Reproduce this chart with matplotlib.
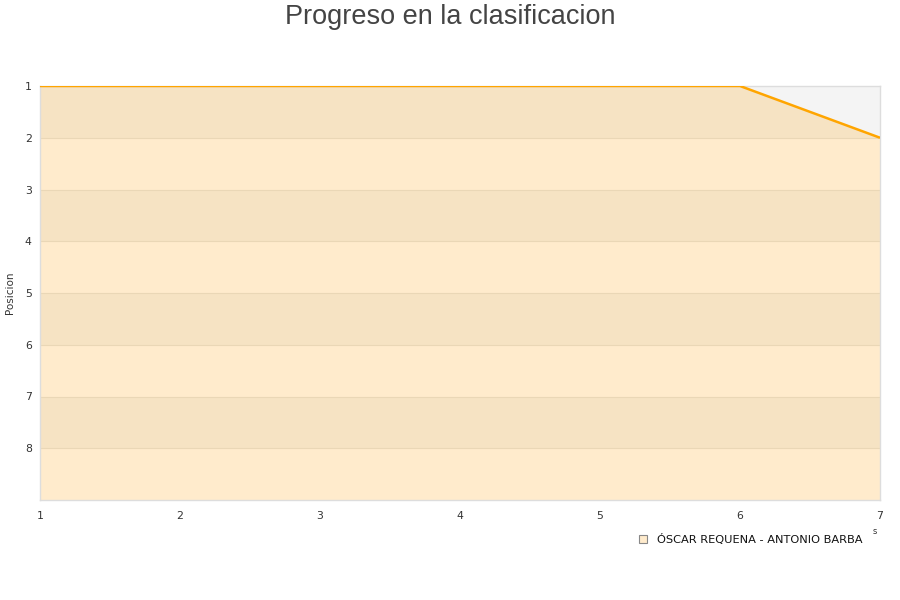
import matplotlib
matplotlib.use("Agg")
from matplotlib import pyplot as plt
from matplotlib.patches import Rectangle

# Data
jornadas = [1, 2, 3, 4, 5, 6, 7]
posicion = [1, 1, 1, 1, 1, 1, 2]
equipo = "ÓSCAR REQUENA - ANTONIO BARBA"
y_ticks = [1, 2, 3, 4, 5, 6, 7, 8]
y_max = 9

fig = plt.figure(figsize=(9, 6), dpi=100)
ax = fig.add_axes([40 / 900, 1 - 500 / 600, 840 / 900, 414 / 600])

# alternating bands
for i in range(1, y_max):
    color = "#f6e3c3" if i % 2 == 1 else "#ffebcc"
    ax.axhspan(i, i + 1, color=color, lw=0, zorder=0)
    if i > 1:
        ax.axhline(i, color="#ead7b6", lw=0.8, zorder=1)

# area above the line is grey
ax.fill_between(jornadas, 1, posicion, color="#f4f4f4", lw=0, zorder=2)
ax.plot(jornadas, posicion, color="#ffa500", lw=1.8, zorder=3, solid_capstyle="butt")

ax.set_xlim(1, 7)
ax.set_ylim(y_max, 1)
ax.set_xticks(jornadas)
ax.set_yticks(y_ticks)
ax.tick_params(length=0, labelsize=7.8, colors="#333333")
ax.tick_params(axis="y", pad=6)
ax.tick_params(axis="x", pad=8)
for s in ax.spines.values():
    s.set_color("#dddddd")
    s.set_linewidth(1)

ax.set_ylabel("Posicion", fontsize=7.5, color="#333333", labelpad=7)
fig.text(0.5, 1 - 17 / 600, "Progreso en la clasificacion", fontsize=19.5,
         color="#444444", ha="center", va="center", family="Liberation Sans")

# tiny leftover of the x label
fig.text(875 / 900, 1 - 531 / 600, "s", fontsize=6, color="#333333", ha="center", va="center")

# legend
fig.patches.append(Rectangle((639 / 900, 1 - 543 / 600), 8 / 900, 8 / 600,
                             transform=fig.transFigure, facecolor="#ffebcc",
                             edgecolor="#888888", lw=0.8))
fig.text(657 / 900, 1 - 539 / 600, equipo, fontsize=8.2, color="#111111", va="center")

fig.savefig("out.png", dpi=100)
